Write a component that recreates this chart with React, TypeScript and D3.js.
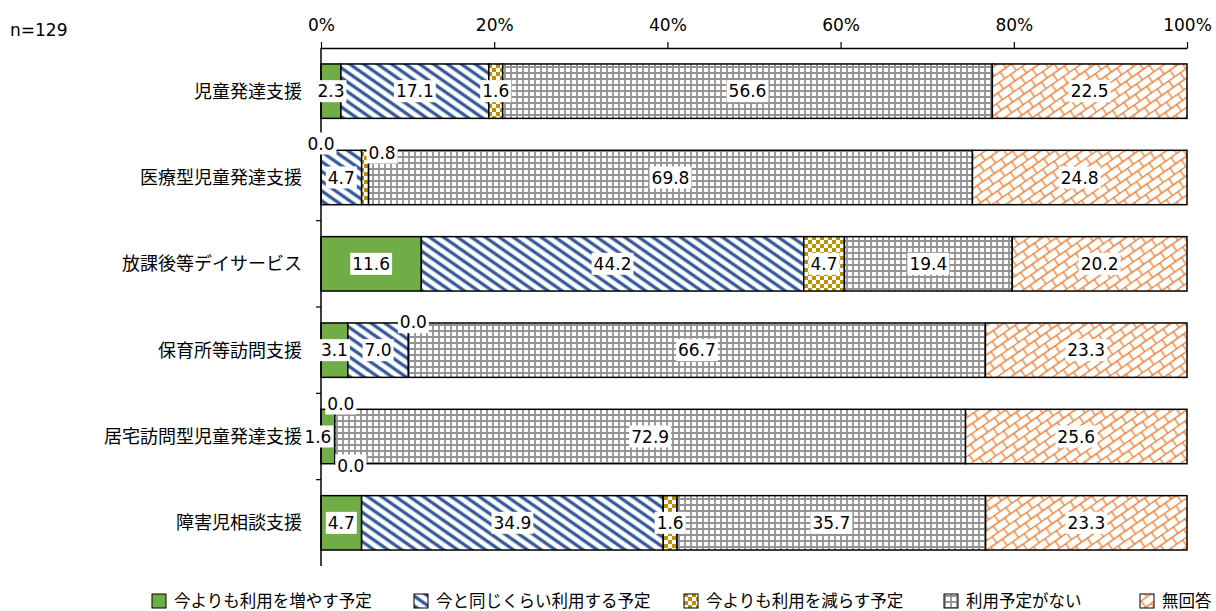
import React, { useEffect, useRef } from "react";
import * as d3 from "d3";

const categories = [
  "児童発達支援",
  "医療型児童発達支援",
  "放課後等デイサービス",
  "保育所等訪問支援",
  "居宅訪問型児童発達支援",
  "障害児相談支援",
];

const seriesNames = [
  "今よりも利用を増やす予定",
  "今と同じくらい利用する予定",
  "今よりも利用を減らす予定",
  "利用予定がない",
  "無回答",
];

// values per series, one per category
const increase = [2.3, 0.0, 11.6, 3.1, 1.6, 4.7];
const same = [17.1, 4.7, 44.2, 7.0, 0.0, 34.9];
const decrease = [1.6, 0.8, 4.7, 0.0, 0.0, 1.6];
const none = [56.6, 69.8, 19.4, 66.7, 72.9, 35.7];
const noAnswer = [22.5, 24.8, 20.2, 23.3, 25.6, 23.3];

const xTicks = [0, 20, 40, 60, 80, 100];
const sampleLabel = "n=129";

const App = () => {
  const ref = useRef<SVGSVGElement>(null);

  useEffect(() => {
    const width = 1216;
    const height = 611;
    const marginTop = 48;
    const marginLeft = 321;
    const marginRight = 29;
    const plotBottom = 566;
    const font = "'DejaVu Sans', 'Noto Sans CJK JP', sans-serif";

    const series = [increase, same, decrease, none, noAnswer];

    const svg = d3
      .select(ref.current)
      .attr("width", width)
      .attr("height", height)
      .attr("viewBox", [0, 0, width, height])
      .style("position", "absolute")
      .style("left", "0px")
      .style("top", "0px")
      .style("font-family", font);

    svg.selectAll("*").remove();

    // patterns
    const defs = svg.append("defs");

    const pStripe = defs
      .append("pattern")
      .attr("id", "p1")
      .attr("patternUnits", "userSpaceOnUse")
      .attr("width", 8)
      .attr("height", 8)
      .attr("patternTransform", "rotate(-55)");
    pStripe.append("rect").attr("width", 8).attr("height", 8).attr("fill", "#fff");
    pStripe
      .append("rect")
      .attr("x", 2.5)
      .attr("width", 3.2)
      .attr("height", 8)
      .attr("fill", "#2F5597");

    const pCheck = defs
      .append("pattern")
      .attr("id", "p2")
      .attr("patternUnits", "userSpaceOnUse")
      .attr("width", 8)
      .attr("height", 8);
    pCheck.append("rect").attr("width", 8).attr("height", 8).attr("fill", "#fff");
    pCheck.append("rect").attr("width", 4).attr("height", 4).attr("fill", "#BF9000");
    pCheck
      .append("rect")
      .attr("x", 4)
      .attr("y", 4)
      .attr("width", 4)
      .attr("height", 4)
      .attr("fill", "#BF9000");

    const pGrid = defs
      .append("pattern")
      .attr("id", "p3")
      .attr("patternUnits", "userSpaceOnUse")
      .attr("width", 6)
      .attr("height", 6);
    pGrid.append("rect").attr("width", 6).attr("height", 6).attr("fill", "#fff");
    pGrid
      .append("path")
      .attr("d", "M1,0V6M0,1H6")
      .attr("stroke", "#939393")
      .attr("stroke-width", 1.8);

    const pBrick = defs
      .append("pattern")
      .attr("id", "p4")
      .attr("patternUnits", "userSpaceOnUse")
      .attr("width", 14)
      .attr("height", 16)
      .attr("patternTransform", "rotate(-35)");
    pBrick.append("rect").attr("width", 14).attr("height", 16).attr("fill", "#fff");
    pBrick
      .append("path")
      .attr("d", "M0,0.5H14M0,8.5H14M1,0.5V8.5M8,8.5V16.5")
      .attr("stroke", "#ED7D31")
      .attr("stroke-width", 1.3)
      .attr("fill", "none");

    const fills = ["#70AD47", "url(#p1)", "url(#p2)", "url(#p3)", "url(#p4)"];

    const x = d3
      .scaleLinear()
      .domain([0, 100])
      .range([marginLeft, width - marginRight]);

    const y = d3
      .scaleBand()
      .domain(categories)
      .range([marginTop, plotBottom])
      .paddingInner(0.37)
      .paddingOuter(0.185);

    // label nudges for tiny segments (row-series -> dx, dy)
    const nudge: Record<string, [number, number]> = {
      "1-0": [0, -34],
      "1-2": [17, -25],
      "3-2": [5, -28],
      "4-0": [-10, 0],
      "4-1": [6, -33],
      "4-2": [16, 29],
    };

    const rows = categories.map((c, i) => {
      const vals = series.map((s) => s[i]);
      const total = d3.sum(vals);
      let acc = 0;
      return vals.map((v, j) => {
        const x0 = (acc / total) * 100;
        acc += v;
        const x1 = (acc / total) * 100;
        return { cat: c, row: i, s: j, v, x0, x1 };
      });
    });

    const bars = svg.append("g");
    rows.forEach((segs) => {
      bars
        .selectAll(null)
        .data(segs)
        .join("rect")
        .attr("x", (d) => x(d.x0))
        .attr("y", (d) => y(d.cat)!)
        .attr("width", (d) => x(d.x1) - x(d.x0))
        .attr("height", y.bandwidth())
        .attr("fill", (d) => fills[d.s])
        .attr("stroke", "#000")
        .attr("stroke-width", 1.5);
    });

    // top axis
    svg
      .append("g")
      .attr("transform", `translate(0,${marginTop})`)
      .call(
        d3
          .axisTop(x)
          .tickValues(xTicks)
          .tickFormat((d) => `${d}%`)
          .tickSize(6)
          .tickSizeOuter(0)
      )
      .call((g) => g.select(".domain").attr("stroke-width", 1.5))
      .call((g) => g.selectAll(".tick line").attr("stroke-width", 1.2))
      .call((g) =>
        g
          .selectAll(".tick text")
          .attr("font-size", 17)
          .attr("font-family", font)
          .attr("fill", "#000")
          .attr("y", -17)
      );

    // left axis line with ticks at band edges
    const left = svg.append("g");
    left
      .append("line")
      .attr("x1", marginLeft)
      .attr("x2", marginLeft)
      .attr("y1", marginTop)
      .attr("y2", plotBottom)
      .attr("stroke", "#000")
      .attr("stroke-width", 1.5);
    left
      .selectAll(null)
      .data(categories.slice(1))
      .join("line")
      .attr("x1", marginLeft - 5)
      .attr("x2", marginLeft)
      .attr("y1", (d) => y(d)! - (y.step() * y.paddingInner()) / 2)
      .attr("y2", (d) => y(d)! - (y.step() * y.paddingInner()) / 2)
      .attr("stroke", "#000")
      .attr("stroke-width", 1.2);

    left
      .selectAll(null)
      .data(categories)
      .join("text")
      .attr("x", 302)
      .attr("y", (d) => y(d)! + y.bandwidth() / 2)
      .attr("text-anchor", "end")
      .attr("dominant-baseline", "central")
      .attr("font-size", 18)
      .text((d) => d);

    // value labels
    const labels = svg.append("g");
    rows.flat().forEach((d) => {
      const key = `${d.row}-${d.s}`;
      const [dx, dy] = nudge[key] || [0, 0];
      const cx = (x(d.x0) + x(d.x1)) / 2 + dx;
      const cy = y(d.cat)! + y.bandwidth() / 2 + dy;
      const g = labels.append("g");
      const t = g
        .append("text")
        .attr("x", cx)
        .attr("y", cy)
        .attr("text-anchor", "middle")
        .attr("dominant-baseline", "central")
        .attr("font-size", 17)
        .text(d.v.toFixed(1));
      const bb = (t.node() as SVGTextElement).getBBox();
      g.insert("rect", "text")
        .attr("x", bb.x - 2)
        .attr("y", cy - 11)
        .attr("width", bb.width + 4)
        .attr("height", 22)
        .attr("fill", "#fff");
    });

    // sample size
    svg
      .append("text")
      .attr("x", 10)
      .attr("y", 30)
      .attr("dominant-baseline", "central")
      .attr("font-size", 17)
      .text(sampleLabel);

    // legend
    const legendX = [152, 414, 684, 944, 1140];
    const legend = svg.append("g");
    seriesNames.forEach((name, i) => {
      const g = legend.append("g").attr("transform", `translate(${legendX[i]},601)`);
      g.append("rect")
        .attr("x", 0)
        .attr("y", -7)
        .attr("width", 14)
        .attr("height", 14)
        .attr("fill", fills[i])
        .attr("stroke", "#000")
        .attr("stroke-width", 1);
      g.append("text")
        .attr("x", 22)
        .attr("y", 0)
        .attr("dominant-baseline", "central")
        .attr("font-size", 16.5)
        .text(name);
    });
  }, []);

  return <svg ref={ref}></svg>;
};

export default App;
